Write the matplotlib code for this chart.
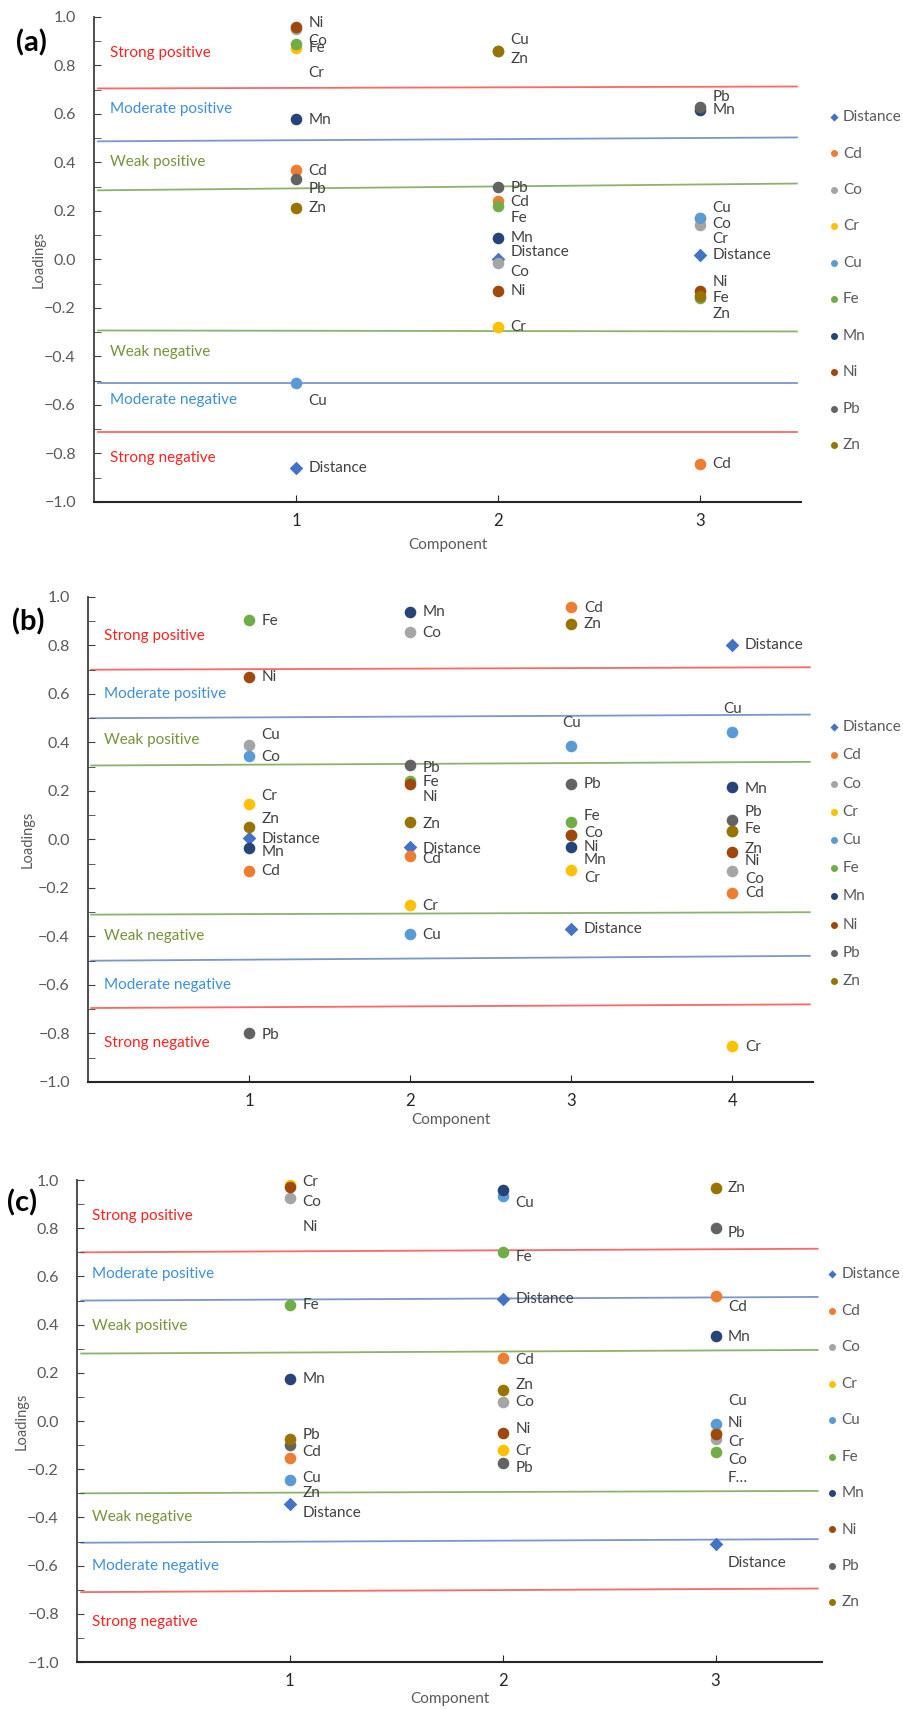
import matplotlib
matplotlib.use('Agg')
import matplotlib.pyplot as plt
from matplotlib.ticker import MultipleLocator

plt.rcParams['font.family'] = ['Lato', 'DejaVu Sans']

elements = ['Distance', 'Cd', 'Co', 'Cr', 'Cu', 'Fe', 'Mn', 'Ni', 'Pb', 'Zn']
colors = ['#4472C4', '#ED7D31', '#A5A5A5', '#FFC000', '#5B9BD5',
          '#70AD47', '#264478', '#9E480E', '#636363', '#997300']

# component loadings, one list per variable (components 1..n)
load_a = {
    'Distance': [-0.86, 0.00, 0.02],
    'Cd': [0.37, 0.24, -0.845],
    'Co': [0.95, -0.015, 0.14],
    'Cr': [0.87, -0.28, 0.17],
    'Cu': [-0.51, 0.86, 0.17],
    'Fe': [0.89, 0.22, -0.16],
    'Mn': [0.58, 0.09, 0.615],
    'Ni': [0.96, -0.13, -0.13],
    'Pb': [0.33, 0.30, 0.63],
    'Zn': [0.21, 0.86, -0.15],
}
load_b = {
    'Distance': [0.005, -0.03, -0.37, 0.80],
    'Cd': [-0.13, -0.07, 0.96, -0.22],
    'Co': [0.39, 0.855, 0.02, -0.13],
    'Cr': [0.145, -0.27, -0.125, -0.85],
    'Cu': [0.345, -0.39, 0.387, 0.445],
    'Fe': [0.905, 0.24, 0.07, 0.035],
    'Mn': [-0.035, 0.94, -0.03, 0.215],
    'Ni': [0.67, 0.23, 0.02, -0.05],
    'Pb': [-0.80, 0.305, 0.23, 0.08],
    'Zn': [0.05, 0.07, 0.89, 0.035],
}
load_c = {
    'Distance': [-0.345, 0.505, -0.51],
    'Cd': [-0.155, 0.26, 0.52],
    'Co': [0.925, 0.08, -0.075],
    'Cr': [0.98, -0.12, -0.05],
    'Cu': [-0.245, 0.935, -0.012],
    'Fe': [0.48, 0.70, -0.13],
    'Mn': [0.175, 0.96, 0.353],
    'Ni': [0.97, -0.05, -0.055],
    'Pb': [-0.10, -0.175, 0.80],
    'Zn': [-0.075, 0.13, 0.967],
}

# where the data labels sit (nudged apart where points crowd)
lab_a = {
    'Distance': [-0.86, 0.03, 0.017],
    'Cd': [0.365, 0.235, -0.845],
    'Co': [0.90, -0.05, 0.148],
    'Cr': [0.77, -0.28, 0.085],
    'Cu': [-0.585, 0.905, 0.21],
    'Fe': [0.87, 0.17, -0.16],
    'Mn': [0.575, 0.09, 0.615],
    'Ni': [0.975, -0.13, -0.095],
    'Pb': [0.29, 0.295, 0.67],
    'Zn': [0.21, 0.825, -0.225],
}
lab_b = {
    'Distance': [0.0, -0.04, -0.37, 0.80],
    'Cd': [-0.13, -0.08, 0.955, -0.22],
    'Co': [0.34, 0.85, 0.025, -0.165],
    'Cr': [0.18, -0.275, -0.16, -0.855],
    'Cu': [0.43, -0.395, 0.48, 0.54],
    'Fe': [0.90, 0.235, 0.095, 0.045],
    'Mn': [-0.05, 0.94, -0.085, 0.21],
    'Ni': [0.67, 0.175, -0.03, -0.09],
    'Pb': [-0.805, 0.295, 0.23, 0.115],
    'Zn': [0.085, 0.065, 0.89, -0.04],
}
lab_c = {
    'Distance': [-0.38, 0.505, -0.59],
    'Cd': [-0.13, 0.255, 0.475],
    'Co': [0.91, 0.08, -0.16],
    'Cr': [0.99, -0.125, -0.085],
    'Cu': [-0.235, 0.905, 0.085],
    'Fe': [0.48, 0.68, -0.235],
    'Mn': [0.175, 1.03, 0.35],
    'Ni': [0.805, -0.035, -0.01],
    'Pb': [-0.06, -0.195, 0.78],
    'Zn': [-0.30, 0.15, 0.967],
}
# labels centred above their point
centred = {'b': [('Cu', 3), ('Cu', 4)]}
short_text = {'c': {('Fe', 3): 'F\u2026'}}

# class boundaries (left end, right end)
bands_a = [(0.705, 0.713), (0.487, 0.503), (0.285, 0.313),
           (-0.293, -0.297), (-0.51, -0.51), (-0.71, -0.71)]
bands_b = [(0.70, 0.71), (0.50, 0.515), (0.305, 0.32),
           (-0.31, -0.30), (-0.50, -0.48), (-0.695, -0.68)]
bands_c = [(0.70, 0.715), (0.50, 0.515), (0.28, 0.295),
           (-0.30, -0.29), (-0.505, -0.49), (-0.71, -0.695)]
band_colors = ['#FF4040', '#5B7BC0', '#6FA048', '#6FA048', '#5B7BC0', '#FF4040']

classes = ['Strong positive', 'Moderate positive', 'Weak positive',
           'Weak negative', 'Moderate negative', 'Strong negative']
class_colors = ['#FF2020', '#3D8FD9', '#76923C', '#76923C', '#3D8FD9', '#FF2020']
class_y_a = [0.85, 0.62, 0.40, -0.38, -0.58, -0.82]
class_y_b = [0.84, 0.60, 0.41, -0.40, -0.60, -0.84]
class_y_c = [0.85, 0.61, 0.395, -0.40, -0.60, -0.835]


def draw_panel(ax, tag, loads, labs, bands, class_y, ncomp, class_x,
               leg_anchor, leg_space, ylab_x, xlab_y):
    comps = list(range(1, ncomp + 1))
    xmax = ncomp + 0.5
    for (y0, y1), c in zip(bands, band_colors):
        ax.plot([0.02, xmax - 0.02], [y0, y1], color=c, lw=1.3, alpha=0.8, zorder=1)
    for name, c, y in zip(classes, class_colors, class_y):
        ax.text(class_x, y, name, color=c, fontsize=11, va='center', ha='left')

    for el, col in zip(elements, colors):
        marker = 'D' if el == 'Distance' else 'o'
        size = 48 if el == 'Distance' else 70
        ax.scatter(comps, loads[el], s=size, marker=marker, color=col,
                   label=el, zorder=3, linewidths=0)
        for xv, ly in zip(comps, labs[el]):
            txt = short_text.get(tag, {}).get((el, xv), el)
            if (el, xv) in centred.get(tag, []):
                ax.annotate(txt, (xv, ly), xytext=(0, 0), textcoords='offset points',
                            ha='center', va='center', fontsize=11, color='#404040')
            else:
                ax.annotate(txt, (xv, ly), xytext=(9, 0), textcoords='offset points',
                            ha='left', va='center', fontsize=11, color='#404040')

    ax.set_xlim(0, xmax)
    ax.set_ylim(-1, 1)
    ax.set_xticks(comps)
    ax.yaxis.set_major_locator(MultipleLocator(0.2))
    ax.yaxis.set_minor_locator(MultipleLocator(0.1))
    ax.tick_params(axis='y', which='both', direction='in', length=5,
                   color='#404040', labelcolor='#595959', labelsize=11.5, pad=13)
    ax.tick_params(axis='x', direction='in', length=5, color='#262626',
                   labelcolor='#262626', labelsize=12, pad=8)
    for s in ['top', 'right']:
        ax.spines[s].set_visible(False)
    ax.spines['left'].set_color('#404040')
    ax.spines['left'].set_linewidth(1.3)
    ax.spines['bottom'].set_color('#262626')
    ax.spines['bottom'].set_linewidth(1.5)

    ax.set_ylabel('Loadings', color='#595959', fontsize=10.5)
    ax.yaxis.set_label_coords(ylab_x, 0.5)
    ax.set_xlabel('Component', color='#595959', fontsize=11)
    ax.xaxis.set_label_coords(0.5, xlab_y)

    ax.legend(loc='upper left', bbox_to_anchor=leg_anchor, frameon=False,
              handlelength=0.6, handletextpad=0.3, borderpad=0, borderaxespad=0,
              labelspacing=leg_space, markerscale=0.6, fontsize=11,
              labelcolor='#595959')


fig = plt.figure(figsize=(9.04, 17.09), dpi=100)

ax_a = fig.add_axes([0.104, 0.7063, 0.782, 0.2838])
draw_panel(ax_a, 'a', load_a, lab_a, bands_a, class_y_a, 3, 0.08,
           (1.040, 0.808), 1.47, -0.068, -0.074)
ax_b = fig.add_axes([0.0973, 0.3669, 0.802, 0.2838])
draw_panel(ax_b, 'b', load_b, lab_b, bands_b, class_y_b, 4, 0.1,
           (1.022, 0.746), 0.93, -0.074, -0.064)
ax_c = fig.add_axes([0.0852, 0.0275, 0.824, 0.282])
draw_panel(ax_c, 'c', load_c, lab_c, bands_c, class_y_c, 3, 0.07,
           (1.008, 0.819), 1.47, -0.065, -0.062)

fig.text(0.018, 0.975, '(a)', fontsize=21, fontweight='bold', va='center')
fig.text(0.013, 0.636, '(b)', fontsize=21, fontweight='bold', va='center')
fig.text(0.008, 0.296, '(c)', fontsize=21, fontweight='bold', va='center')

fig.savefig('out.png', dpi=100)
